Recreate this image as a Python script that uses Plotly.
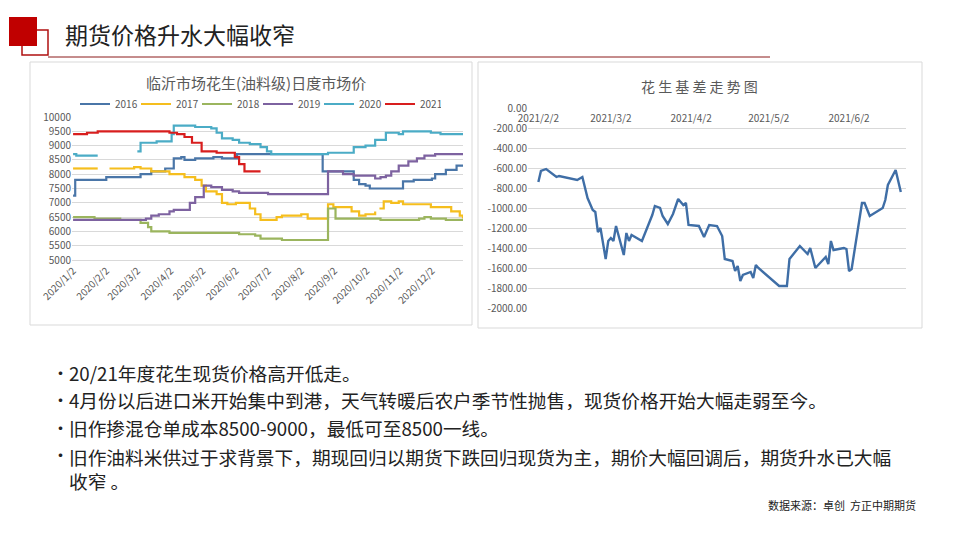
import plotly.graph_objects as go

# ---------------- data: left chart (Linyi peanut daily price) ----------------
years = ["2016", "2017", "2018", "2019", "2020", "2021"]
year_colors = ["#4A76A8", "#F5BE1E", "#9BB55E", "#7D62A0", "#4BACC6", "#D81E1E"]

d2016 = ["2020-01-02", "2020-01-04", "2020-01-25", "2020-02-02", "2020-03-01", "2020-03-05", "2020-03-15",
         "2020-03-28", "2020-04-05", "2020-04-12", "2020-04-15", "2020-04-25", "2020-05-10", "2020-05-12",
         "2020-05-20", "2020-06-02", "2020-06-03", "2020-08-20", "2020-08-22", "2020-09-20", "2020-09-25",
         "2020-10-01", "2020-10-05", "2020-11-01", "2020-11-05", "2020-11-15", "2020-12-02", "2020-12-05",
         "2020-12-15", "2020-12-20", "2020-12-25", "2020-12-31"]
v2016 = [7250, 7800, 7800, 7900, 7900, 8000, 8100, 8200, 8550, 8600, 8500, 8550, 8550, 8600, 8550, 8550, 8700,
         8700, 8100, 7800, 7650, 7600, 7500, 7500, 7750, 7800, 7850, 8000, 8150, 8150, 8300, 8300]

d2017 = ["2020-01-02", "2020-01-25", "2020-01-30", "2020-02-05", "2020-02-28", "2020-03-05", "2020-03-15",
         "2020-04-01", "2020-04-15", "2020-04-25", "2020-05-01", "2020-05-05", "2020-05-15", "2020-05-20",
         "2020-05-25", "2020-06-02", "2020-06-10", "2020-06-15", "2020-06-20", "2020-06-25", "2020-07-02",
         "2020-07-10", "2020-07-15", "2020-08-01", "2020-08-02", "2020-08-08", "2020-08-26", "2020-08-27",
         "2020-09-01", "2020-09-12", "2020-09-18", "2020-09-25", "2020-10-01", "2020-10-10", "2020-10-12",
         "2020-10-14", "2020-10-18", "2020-10-25", "2020-11-01", "2020-11-05", "2020-11-25", "2020-12-01",
         "2020-12-12", "2020-12-20", "2020-12-28", "2020-12-31"]
v2017 = [8200, 8200, None, 8200, 8250, 8200, 8100, 8000, 7900, 7800, 7600, 7400, 7300, 7000, 6950, 7000, 7000,
         6800, 6600, 6400, 6400, 6500, 6550, 6550, 6600, 6450, 6450, 6950, 6850, 6850, 6700, 6550, 6600, 6700,
         None, 6800, 7050, 7000, 7050, 6950, 6950, 6850, 6850, 6700, 6550, 6450]

d2018 = ["2020-01-02", "2020-01-20", "2020-01-22", "2020-02-12", "2020-02-15", "2020-03-02", "2020-03-05",
         "2020-03-12", "2020-03-15", "2020-03-25", "2020-04-01", "2020-04-10", "2020-06-02", "2020-06-05",
         "2020-06-20", "2020-06-25", "2020-07-10", "2020-07-15", "2020-08-26", "2020-08-27", "2020-09-03",
         "2020-10-01", "2020-10-15", "2020-11-15", "2020-11-20", "2020-11-25", "2020-12-01", "2020-12-15",
         "2020-12-31"]
v2018 = [6500, 6500, 6450, 6450, 6400, 6400, 6300, 6150, 6000, 6000, 5950, 5950, 5950, 5900, 5850, 5750, 5750,
         5700, 5700, 6800, 6450, 6450, 6400, 6400, 6450, 6500, 6450, 6400, 6400]

d2019 = ["2020-01-02", "2020-03-05", "2020-03-10", "2020-03-15", "2020-03-22", "2020-04-01", "2020-04-05",
         "2020-04-15", "2020-04-20", "2020-04-25", "2020-05-03", "2020-05-10", "2020-05-20", "2020-05-30",
         "2020-06-05", "2020-06-25", "2020-07-02", "2020-08-26", "2020-08-27", "2020-09-05", "2020-09-10",
         "2020-09-20", "2020-10-01", "2020-10-10", "2020-10-15", "2020-10-20", "2020-10-25", "2020-11-01",
         "2020-11-10", "2020-11-18", "2020-11-25", "2020-12-05", "2020-12-31"]
v2019 = [6400, 6400, 6450, 6550, 6600, 6700, 6750, 6750, 7000, 7200, 7600, 7550, 7450, 7400, 7350, 7350, 7300,
         7300, 8100, 8100, 8000, 7950, 7950, 7850, 7900, 7950, 8100, 8300, 8450, 8550, 8650, 8700, 8700]

d2020 = ["2020-01-02", "2020-01-05", "2020-01-25", "2020-02-15", "2020-03-02", "2020-03-05", "2020-03-15",
         "2020-03-20", "2020-03-30", "2020-04-03", "2020-04-05", "2020-04-15", "2020-04-25", "2020-05-05",
         "2020-05-10", "2020-05-15", "2020-05-20", "2020-05-30", "2020-06-05", "2020-06-15", "2020-06-25",
         "2020-07-01", "2020-07-05", "2020-08-26", "2020-08-27", "2020-09-10", "2020-09-20", "2020-10-01",
         "2020-10-10", "2020-10-20", "2020-11-01", "2020-11-05", "2020-11-20", "2020-12-01", "2020-12-10",
         "2020-12-31"]
v2020 = [8700, 8650, 8650, None, 8800, 9100, 9100, 9150, 9150, 9400, 9700, 9700, 9650, 9650, 9600, 9450, 9250,
         9200, 9100, 9050, 8950, 8800, 8700, 8700, 8750, 8750, 8950, 9000, 9200, 9450, 9400, 9500, 9500, 9450,
         9400, 9400]

d2021 = ["2020-01-02", "2020-01-15", "2020-01-25", "2020-03-25", "2020-04-01", "2020-04-08", "2020-04-15",
         "2020-04-22", "2020-05-01", "2020-05-10", "2020-05-15", "2020-05-25", "2020-06-01", "2020-06-05",
         "2020-06-10", "2020-06-25"]
v2021 = [9400, 9450, 9500, 9500, 9450, 9400, 9300, 9100, 8800, 8800, 8750, 8750, 8600, 8350, 8100, 8100]

left_dates = [d2016, d2017, d2018, d2019, d2020, d2021]
left_vals = [v2016, v2017, v2018, v2019, v2020, v2021]
left_ticks = ["2020-%02d-02" % m for m in range(1, 13)]
left_ticktext = ["2020/%d/2" % m for m in range(1, 13)]

# ---------------- data: right chart (basis) ----------------
basis_dates = ["2021-02-02", "2021-02-03", "2021-02-05", "2021-02-09", "2021-02-10", "2021-02-17", "2021-02-19",
               "2021-02-21", "2021-02-23", "2021-02-24", "2021-02-25", "2021-02-26", "2021-02-28", "2021-03-01",
               "2021-03-02", "2021-03-03", "2021-03-04", "2021-03-07", "2021-03-08", "2021-03-09", "2021-03-10",
               "2021-03-14", "2021-03-16", "2021-03-18", "2021-03-19", "2021-03-21", "2021-03-22", "2021-03-24",
               "2021-03-26", "2021-03-28", "2021-03-30", "2021-03-31", "2021-04-01", "2021-04-05", "2021-04-07",
               "2021-04-09", "2021-04-12", "2021-04-14", "2021-04-15", "2021-04-18", "2021-04-19", "2021-04-20",
               "2021-04-21", "2021-04-22", "2021-04-25", "2021-04-26", "2021-04-27", "2021-04-28", "2021-05-06",
               "2021-05-09", "2021-05-10", "2021-05-12", "2021-05-14", "2021-05-17", "2021-05-18", "2021-05-20",
               "2021-05-24", "2021-05-25", "2021-05-26", "2021-05-27", "2021-05-31", "2021-06-01", "2021-06-02",
               "2021-06-03", "2021-06-05", "2021-06-07", "2021-06-08", "2021-06-10", "2021-06-15", "2021-06-16",
               "2021-06-17", "2021-06-20", "2021-06-22"]
basis_vals = [-740, -630, -610, -690, -680, -720, -690, -900, -1020, -1040, -1240, -1200, -1510, -1330, -1300,
              -1330, -1180, -1470, -1250, -1330, -1270, -1330, -1200, -1070, -980, -1000, -1080, -1160, -1060,
              -910, -970, -950, -1170, -1180, -1290, -1170, -1180, -1280, -1510, -1530, -1630, -1580, -1730,
              -1670, -1640, -1700, -1570, -1600, -1780, -1780, -1510, -1450, -1380, -1460, -1400, -1600, -1490,
              -1560, -1330, -1420, -1400, -1410, -1630, -1610, -1270, -950, -950, -1080, -1000, -920, -770, -620,
              -840]
basis_ticks = ["2021-02-02", "2021-03-02", "2021-04-02", "2021-05-02", "2021-06-02"]
basis_ticktext = ["2021/2/2", "2021/3/2", "2021/4/2", "2021/5/2", "2021/6/2"]
basis_yticks = list(range(0, -2001, -200))

bullets = [
    "20/21年度花生现货价格高开低走。",
    "4月份以后进口米开始集中到港，天气转暖后农户季节性抛售，现货价格开始大幅走弱至今。",
    "旧作掺混仓单成本8500-9000，最低可至8500一线。",
    "旧作油料米供过于求背景下，期现回归以期货下跌回归现货为主，期价大幅回调后，期货升水已大幅<br>收窄 。",
]

FONT = "Noto Sans CJK SC"
OFF = 8  # the page body adds an 8px margin


def px(x):
    return (x - OFF) / 960


def py(y):
    return 1 - (y - OFF) / 540


fig = go.Figure()

for name, color, xs, ys in zip(years, year_colors, left_dates, left_vals):
    fig.add_trace(go.Scatter(x=xs, y=ys, name=name, mode="lines", line=dict(color=color, width=2.2),
                             line_shape="hv", xaxis="x", yaxis="y", connectgaps=False))

fig.add_trace(go.Scatter(x=basis_dates, y=basis_vals, mode="lines", showlegend=False,
                         line=dict(color="#3F6EA6", width=2.4), xaxis="x2", yaxis="y2"))

grid = "#D9D9D9"
tickfont = dict(family=FONT, size=10, color="#595959")
fig.update_layout(
    width=960, height=540, margin=dict(l=0, r=0, t=0, b=0, autoexpand=False),
    paper_bgcolor="white", plot_bgcolor="white",
    font=dict(family=FONT),
    xaxis=dict(domain=[px(72), px(463)], anchor="y", type="date", range=["2020-01-01", "2020-12-31"],
               tickvals=left_ticks, ticktext=left_ticktext, tickangle=-45, tickfont=tickfont,
               showgrid=False, showline=True, linecolor=grid, ticks="", automargin=False),
    yaxis=dict(domain=[py(260), py(117)], anchor="x", range=[5000, 10000], dtick=500, tickformat="d",
               tickfont=tickfont, gridcolor=grid, zeroline=False, ticks="", automargin=False),
    xaxis2=dict(domain=[px(528), px(906)], anchor="free", position=py(111), type="date",
                range=["2021-01-29", "2021-06-24"], tickvals=basis_ticks, ticktext=basis_ticktext,
                tickfont=tickfont, showgrid=False, showline=False, ticks="", automargin=False),
    yaxis2=dict(domain=[py(308), py(108)], anchor="x2", range=[-2000, 0], tickvals=basis_yticks,
                ticktext=["%.2f" % v for v in basis_yticks], tickfont=tickfont,
                gridcolor=grid, zeroline=False, ticks="", automargin=False),
    legend=dict(orientation="h", x=px(258), xanchor="center", y=py(104), yanchor="middle",
                bgcolor="rgba(0,0,0,0)", entrywidth=16, entrywidthmode="pixels",
                font=dict(family=FONT, size=10, color="#595959"), itemwidth=30, tracegroupgap=0),
)

shapes = [
    dict(type="rect", x0=px(22), x1=px(48), y0=py(55), y1=py(30),
         line=dict(color="#B01010", width=1.5), fillcolor="white"),
    dict(type="rect", x0=px(9), x1=px(37), y0=py(46), y1=py(17), line=dict(width=0), fillcolor="#C00000"),
    dict(type="line", x0=px(48), x1=px(770), y0=py(57), y1=py(57), line=dict(color="#8B1A1A", width=1)),
    dict(type="rect", x0=px(30), x1=px(472), y0=py(325), y1=py(62), line=dict(color="#D9D9D9", width=1)),
    dict(type="rect", x0=px(478), x1=px(922), y0=py(328), y1=py(62), line=dict(color="#D9D9D9", width=1)),
]
for s in shapes:
    s.update(xref="paper", yref="paper")
fig.update_layout(shapes=shapes)

ann = [
    dict(text="期货价格升水大幅收窄", x=px(63), y=py(34), xanchor="left", yanchor="middle",
         font=dict(size=23, color="#222222")),
    dict(text="临沂市场花生(油料级)日度市场价", x=px(256), y=py(82), xanchor="center", yanchor="middle",
         font=dict(size=15, color="#595959")),
    dict(text="花 生 基 差 走 势 图", x=px(699), y=py(86), xanchor="center", yanchor="middle",
         font=dict(size=14, color="#595959")),
    dict(text="数据来源：卓创  方正中期期货", x=px(918), y=py(505), xanchor="right", yanchor="middle",
         font=dict(size=11, color="#222222")),
]
line_y = [372, 399, 427, 455]
for txt, ly in zip(bullets, line_y):
    ann.append(dict(text="•", x=px(50), y=py(ly), xanchor="left", yanchor="middle",
                    font=dict(size=17, color="#222222")))
    ann.append(dict(text=txt, x=px(67), y=py(ly), xanchor="left",
                    yanchor="top" if "<br>" in txt else "middle",
                    yshift=14 if "<br>" in txt else 0, align="left",
                    font=dict(size=18.7, color="#222222")))
for a in ann:
    a.update(xref="paper", yref="paper", showarrow=False)
    a["font"]["family"] = FONT
fig.update_layout(annotations=ann)

fig.write_html("out.html")
